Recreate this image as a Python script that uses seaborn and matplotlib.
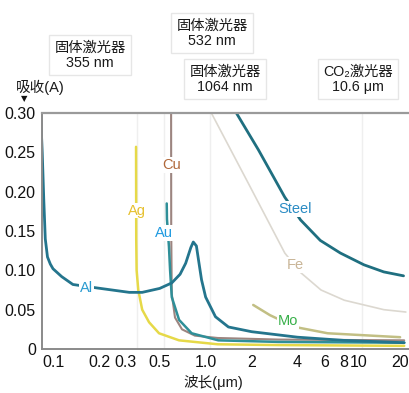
import matplotlib
matplotlib.use("Agg")
import matplotlib.pyplot as plt
import matplotlib.ticker as mticker
import matplotlib.transforms as mtransforms
import numpy as np
import pandas as pd
import seaborn as sns

# ---------------- data ----------------
al_wl = [0.083, 0.085, 0.087, 0.089, 0.092, 0.096, 0.100, 0.114, 0.135, 0.196, 0.316, 0.384,
         0.50, 0.60, 0.68, 0.74, 0.80, 0.83, 0.87, 0.90, 0.94, 1.00, 1.16, 1.41, 2.0, 4.0, 8.0, 20.0]
al_abs = [0.297, 0.25, 0.19, 0.14, 0.117, 0.108, 0.102, 0.092, 0.082, 0.0775, 0.072, 0.072,
          0.077, 0.084, 0.095, 0.109, 0.129, 0.136, 0.131, 0.112, 0.088, 0.066, 0.041, 0.028,
          0.022, 0.015, 0.011, 0.008]

ag_wl = [0.350, 0.351, 0.353, 0.362, 0.384, 0.426, 0.495, 0.67, 1.2, 3.0, 20.0]
ag_abs = [0.257, 0.139, 0.100, 0.075, 0.050, 0.034, 0.020, 0.011, 0.006, 0.005, 0.004]

cu_wl = [0.594, 0.595, 0.600, 0.63, 0.70, 0.85, 1.2, 3.0, 20.0]
cu_abs = [0.300, 0.150, 0.070, 0.040, 0.025, 0.017, 0.014, 0.012, 0.011]

au_wl = [0.556, 0.558, 0.575, 0.585, 0.60, 0.67, 0.81, 1.21, 3.0, 20.0]
au_abs = [0.185, 0.165, 0.130, 0.100, 0.066, 0.037, 0.020, 0.011, 0.009, 0.008]

steel_wl = [1.59, 2.22, 3.30, 4.19, 5.64, 7.63, 10.9, 14.7, 19.8]
steel_abs = [0.300, 0.253, 0.193, 0.164, 0.138, 0.122, 0.107, 0.098, 0.093]

fe_wl = [1.09, 1.9, 3.3, 4.2, 5.7, 8.1, 14.7, 20.5]
fe_abs = [0.300, 0.211, 0.122, 0.097, 0.075, 0.062, 0.050, 0.047]

mo_wl = [2.05, 2.64, 3.85, 6.3, 18.8]
mo_abs = [0.056, 0.043, 0.028, 0.020, 0.015]

x_ticks = [0.1, 0.2, 0.3, 0.5, 1.0, 2, 4, 6, 8, 10, 20]
x_tick_labels = ["0.1", "0.2", "0.3", "0.5", "1.0", "2", "4", "6", "8", "10", "20"]
y_ticks = [0, 0.05, 0.10, 0.15, 0.20, 0.25, 0.30]
y_tick_labels = ["0", "0.05", "0.10", "0.15", "0.20", "0.25", "0.30"]

laser_wl = [0.355, 0.532, 1.064, 10.6]
laser_text = ["固体激光器\n355 nm", "固体激光器\n532 nm", "固体激光器\n1064 nm", "CO₂激光器\n10.6 μm"]

# ---------------- style ----------------
sns.set_theme(style="white")
plt.rcParams['font.family'] = ['Liberation Sans', 'Noto Sans CJK SC', 'DejaVu Sans']
plt.rcParams['axes.unicode_minus'] = False

W, H = 409, 393
fig = plt.figure(figsize=(W / 100, H / 100), dpi=100)
fig.patch.set_facecolor("white")
ax = fig.add_axes([42 / W, 1 - 349 / H, (409 - 42) / W, (349 - 113) / H])

series = [
    ("Fe", fe_wl, fe_abs, "#dcd8d0", 1.2),
    ("Mo", mo_wl, mo_abs, "#c2bf84", 1.8),
    ("Ag", ag_wl, ag_abs, "#e6d948", 1.8),
    ("Cu", cu_wl, cu_abs, "#9c8580", 1.5),
    ("Au", au_wl, au_abs, "#2f8f98", 1.8),
    ("Al", al_wl, al_abs, "#24758d", 2.0),
    ("Steel", steel_wl, steel_abs, "#1f6f80", 2.0),
]
for name, wl, ab, col, lw in series:
    df = pd.DataFrame({"wl": wl, "A": ab})
    sns.lineplot(data=df, x="wl", y="A", ax=ax, color=col, lw=lw,
                 sort=False, estimator=None)

# faint laser guide lines
for wl in laser_wl:
    ax.axvline(wl, color="#efefef", lw=1.0, zorder=0)

ax.set_xscale("log")
ax.set_xlim(0.0847, 21.5)
ax.set_ylim(0, 0.30)
ax.xaxis.set_major_locator(mticker.FixedLocator(x_ticks))
ax.xaxis.set_major_formatter(mticker.FixedFormatter(x_tick_labels))
ax.xaxis.set_minor_locator(mticker.NullLocator())
ax.yaxis.set_major_locator(mticker.FixedLocator(y_ticks))
ax.yaxis.set_major_formatter(mticker.FixedFormatter(y_tick_labels))
ax.tick_params(axis="both", direction="inout", length=5, width=1, color="#888888",
               labelsize=11.5, labelcolor="#111111", pad=2)
ax.set_xlabel("")
ax.set_ylabel("")

# nudge the last x tick label so it stays inside the picture
fig.canvas.draw()
last = ax.get_xticklabels()[-1]
last.set_transform(last.get_transform() +
                   mtransforms.ScaledTranslation(-4 / 100, 0, fig.dpi_scale_trans))

for s in ["left", "bottom"]:
    ax.spines[s].set_color("#8a8a8a")
    ax.spines[s].set_linewidth(1.4)
ax.spines["top"].set_color("#9a9a9a")
ax.spines["top"].set_linewidth(1.6)
ax.spines["right"].set_visible(False)

# curve labels
labels = [
    ("Al", 0.165, 0.078, "#2a9bd0"),
    ("Ag", 0.355, 0.176, "#e6c02e"),
    ("Cu", 0.600, 0.234, "#b0683a"),
    ("Au", 0.530, 0.147, "#1f9ae0"),
    ("Steel", 3.85, 0.178, "#2b8cc4"),
    ("Fe", 3.85, 0.107, "#c9b597"),
    ("Mo", 3.45, 0.036, "#38b04a"),
]
for t, x, y, c in labels:
    ax.text(x, y, t, color=c, fontsize=10.5, ha="center", va="center", zorder=5,
            bbox=dict(fc="white", ec="none", pad=0.6))

# laser annotation boxes (figure pixel coords)
box_pos = [(90, 55), (212, 33), (225, 79), (358, 79)]
for (px, py), txt in zip(box_pos, laser_text):
    fig.text(px / W, 1 - py / H, txt, ha="center", va="center", multialignment="center",
             fontsize=10.3, color="#1a1a1a", linespacing=1.1,
             bbox=dict(boxstyle="square,pad=0.35", fc="white", ec="#e6e6e6", lw=1))

# axis titles
fig.text(40 / W, 1 - 87 / H, "吸收(A)", ha="center", va="center", fontsize=10.5, color="#1a1a1a")
fig.text(24 / W, 1 - 99 / H, "▼", ha="center", va="center", fontsize=6,
         color="#111111", family=["DejaVu Sans"])
fig.text(213 / W, 1 - 383 / H, "波长(μm)", ha="center", va="center", fontsize=10.5, color="#1a1a1a")

fig.savefig("out.png", dpi=100, facecolor="white")
